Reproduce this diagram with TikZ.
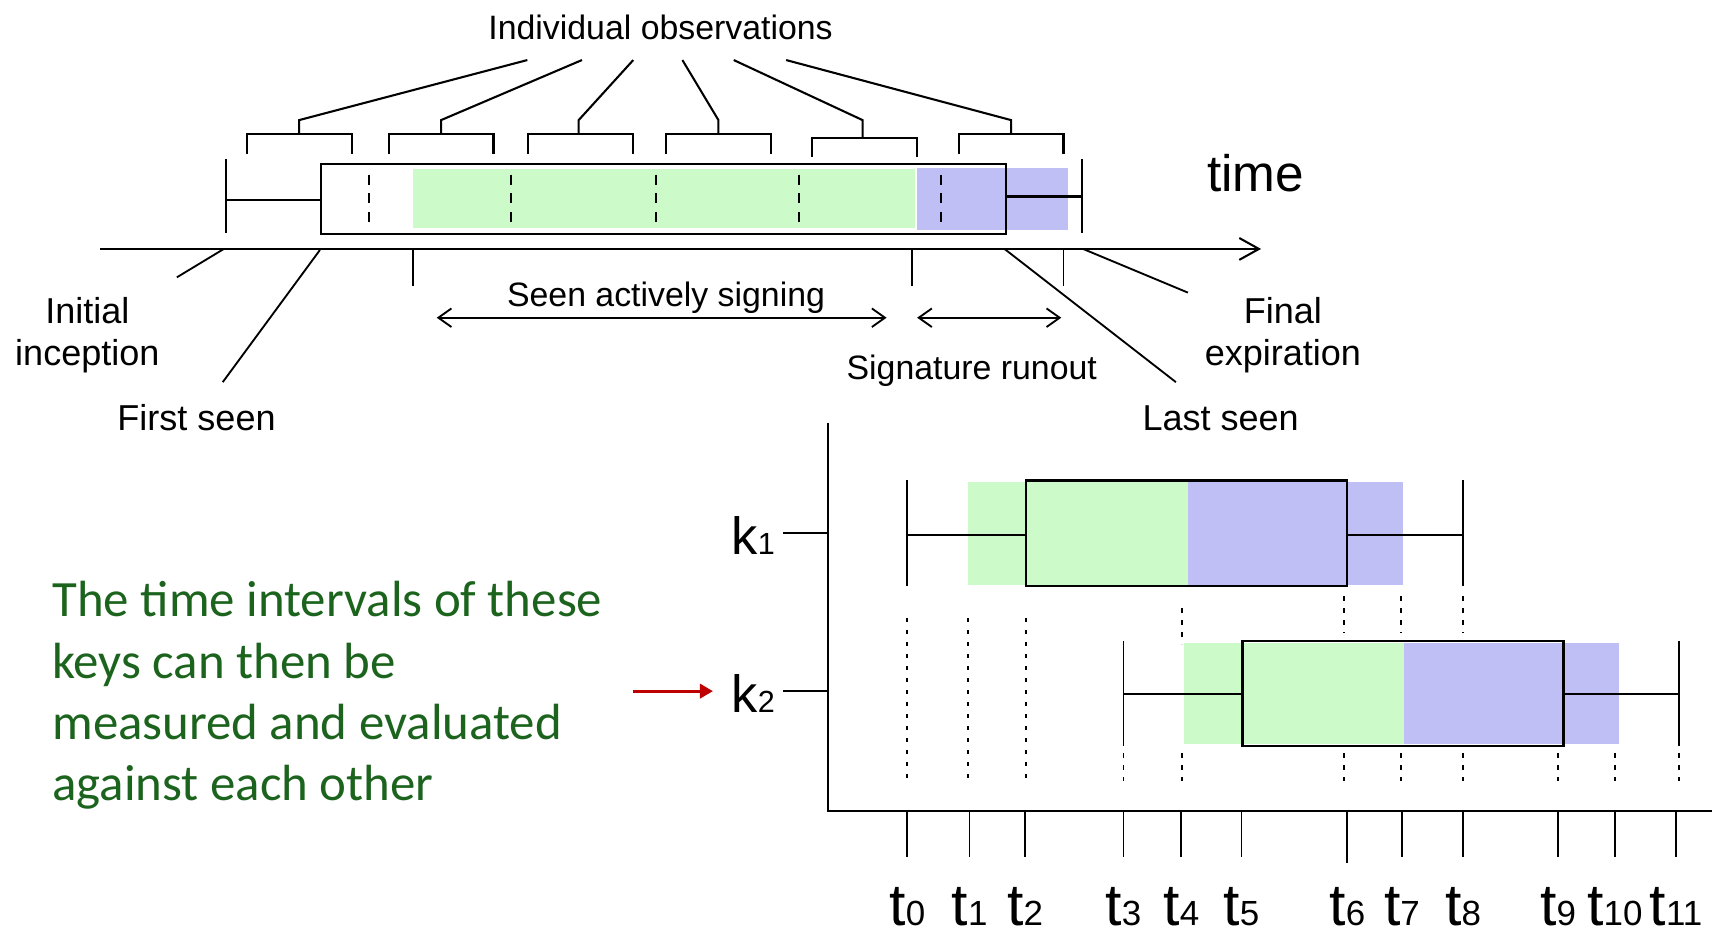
\documentclass[tikz,border=0pt]{standalone}
\usepackage{fontspec}
\setmainfont{Liberation Sans}
\newfontfamily\calib{Carlito}
\usetikzlibrary{arrows.meta}
\definecolor{gfill}{RGB}{204,250,200}
\definecolor{bfill}{RGB}{191,191,246}
\definecolor{gtext}{RGB}{28,100,30}
\definecolor{rarrow}{RGB}{190,0,0}
\begin{document}
\begin{tikzpicture}[x=1pt,y=-1pt,line width=1.9pt,
  lbl/.style={inner sep=0pt,font=\fontsize{31}{37}\selectfont,anchor=base},
  lblb/.style={inner sep=0pt,font=\fontsize{33}{39}\selectfont,anchor=base},
  gline/.style={inner sep=0pt,font=\calib\fontsize{46.6}{56}\selectfont,text=gtext,anchor=base west},
  klbl/.style={inner sep=0pt,font=\fontsize{48}{48}\selectfont,anchor=base},
  tlbl/.style={inner sep=0pt,font=\fontsize{54}{54}\selectfont,anchor=base},
  dashv/.style={line width=1.7pt,dash pattern=on 9pt off 8pt},
  dotv/.style={line width=1.8pt,dash pattern=on 4pt off 7pt},
  dbl/.style={line width=1.7pt,{Straight Barb[length=12pt,width=17pt]}-{Straight Barb[length=12pt,width=17pt]}},
  thin/.style={line width=1.7pt}]
\useasboundingbox (0,0) rectangle (1568,856);

% ---------- top diagram ----------
\node[lbl] (obs) at (605,36) {Individual observations};
\foreach \i/\a/\b/\c/\tx/\ty in {1/226/322/274/483/123, 2/356/452/404/533/123, 3/484/580/530/580/123, 4/610/706/658/625/123, 5/744/840/790/672/126, 6/878/974/926/720/123} {
  \coordinate (o\i) at (\tx,55);
  \coordinate (s\i) at (\c,110);
  \draw (\a,\ty+18) |- (\b,\ty) -- (\b,\ty+18);
  \draw (\c,\ty) -- (s\i) -- (o\i);
}

\fill[gfill] (378,155) rectangle (838,209);
\fill[bfill] (840,154) rectangle (978,211);
\foreach \x in {338,468,601,732,862} \draw[dashv] (\x,160) -- (\x,208);
\node[draw,line width=1.9pt,minimum width=627pt,minimum height=64pt,inner sep=0pt] (box) at (607.5,182) {};
\coordinate (wl) at (207,183);
\coordinate (wr) at (991,180);
\draw (wl) -- (box.west |- wl);
\draw (box.east |- wr) -- (wr);
\draw (207,146) -- (207,213);
\draw (991,146) -- (991,213);
\node[inner sep=0pt,font=\fontsize{47}{47}\selectfont,anchor=base] (time) at (1150,175) {time};

\coordinate (ax0) at (92,228);
\coordinate (ax1) at (1155,228);
\draw[-{Straight Barb[length=18pt,width=20pt]}] (ax0) -- (ax1);
\foreach \x in {378,835,974} \draw[thin] (\x,228) -- (\x,262);

\node[lblb] (ini1) at (80,296) {Initial};
\node[lblb] (ini2) at (80,335) {inception};
\node[lblb] (first) at (180,394) {First seen};
\node[lbl] (active) at (610,281) {Seen actively signing};
\node[lbl] (runout) at (890,348) {Signature runout};
\node[lblb] (fin1) at (1175,296) {Final};
\node[lblb] (fin2) at (1175,335) {expiration};
\node[lblb] (last) at (1118,394) {Last seen};

\coordinate (a1) at (400,291); \coordinate (a2) at (812,291);
\coordinate (b1) at (840,291); \coordinate (b2) at (972,291);
\draw[dbl] (a1) -- (a2);
\draw[dbl] (b1) -- (b2);

\coordinate (li0) at (205,228); \coordinate (li1) at (162,254);
\coordinate (lf0) at (293,229); \coordinate (lf1) at (204,350);
\coordinate (ll0) at (920,228); \coordinate (ll1) at (1077,350);
\coordinate (le0) at (992,228); \coordinate (le1) at (1088,268);
\draw[thin] (li0) -- (li1);
\draw[thin] (lf0) -- (lf1);
\draw[thin] (ll0) -- (ll1);
\draw[thin] (le0) -- (le1);

% ---------- bottom chart ----------
\node[gline] (g1) at (47,565) {The time intervals of these};
\node[gline] (g2) at (47,621) {keys can then be};
\node[gline] (g3) at (47,677) {measured and evaluated};
\node[gline] (g4) at (47,733) {against each other};

\coordinate (yax) at (758,387);
\coordinate (org) at (758,743);
\coordinate (xax) at (1568,743);
\draw (yax) -- (org) -- (xax);

\node[klbl] (k1) at (690,508) {k{\fontsize{28}{28}\selectfont 1}};
\node[klbl] (k2) at (690,653) {k{\fontsize{28}{28}\selectfont 2}};
\draw[thin] (717,488) -- (758,488);
\draw[thin] (717,633) -- (758,633);
\coordinate (r0) at (580,633); \coordinate (r1) at (653,633);
\draw[rarrow,line width=3pt,-{Triangle[length=12pt,width=13pt]}] (r0) -- (r1);

% k1
\fill[gfill] (887,441) rectangle (1088,536);
\fill[bfill] (1088,441) rectangle (1285,536);
\node[draw,line width=2.1pt,minimum width=294pt,minimum height=97pt,inner sep=0pt] (kb1) at (1087,488.5) {};
\draw (831,490) -- (kb1.west |- 0,490);
\draw (kb1.east |- 0,490) -- (1340,490);
\draw[thin] (831,440) -- (831,537);
\draw[thin] (1340,440) -- (1340,537);

% k2
\fill[gfill] (1084,589) rectangle (1286,681);
\fill[bfill] (1286,589) rectangle (1483,681);
\node[draw,line width=2.1pt,minimum width=294pt,minimum height=96pt,inner sep=0pt] (kb2) at (1285,635) {};
\draw (1029,636) -- (kb2.west |- 0,636);
\draw (kb2.east |- 0,636) -- (1538,636);
\draw[thin] (1029,587) -- (1029,683);
\draw[thin] (1538,587) -- (1538,683);

% dotted guides
\foreach \x in {831,887,940} \draw[dotv] (\x,566) -- (\x,715);
\draw[dotv] (1083,557) -- (1083,590);
\foreach \x in {1231,1283,1340} \draw[dotv] (\x,546) -- (\x,580);
\foreach \x in {1029,1083,1231,1283,1340,1427,1479,1538} \draw[dotv] (\x,690) -- (\x,715);

% ticks and labels
\foreach \x/\lab/\len in {831/0/785,888/1/785,939/2/785,1029/3/785,1082/4/785,1137/5/785,1234/6/790,1284/7/785,1340/8/785,1427/9/785,1479/10/785,1535/11/785} {
  \draw[thin] (\x,743) -- (\x,\len);
  \node[tlbl] (t\lab) at (\x,848) {t{\fontsize{32}{32}\selectfont\lab}};
}
\end{tikzpicture}
\end{document}
